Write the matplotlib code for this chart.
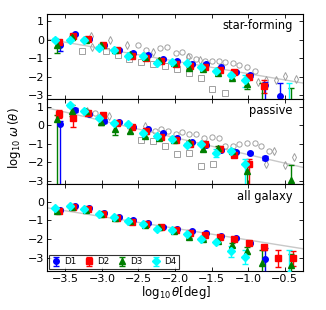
import numpy as np
import matplotlib
matplotlib.use("Agg")
import matplotlib.pyplot as plt

plt.rcParams['font.family'] = ['DejaVu Sans']
plt.rcParams['xtick.direction'] = 'in'
plt.rcParams['ytick.direction'] = 'in'
plt.rcParams['xtick.top'] = True
plt.rcParams['ytick.right'] = True

nan = np.nan

# bin centres in log10 theta [deg]; each sample is shifted a little
theta_bins = [-3.64, -3.44, -3.24, -3.04, -2.84, -2.64, -2.44, -2.24, -2.04,
              -1.84, -1.64, -1.44, -1.24, -1.04, -0.84, -0.64, -0.44]
sample_names = ["D1", "D2", "D3", "D4"]
sample_shift = [0.07, 0.05, 0.025, 0.0]

# ---- star-forming ----
sf_d1 = [-0.3, 0.28, 0.03, -0.28, -0.55, -0.7, -0.83, -1.05, -1.14, -1.3, -1.32, -1.5, -1.75, -1.92, -2.42, -3.04, nan]
sf_d2 = [-0.15, 0.18, 0.03, -0.3, -0.55, -0.9, -1.0, -1.13, -1.32, -1.44, -1.5, -1.62, -1.72, -2.0, -2.48, nan, nan]
sf_d3 = [-0.27, 0.13, -0.02, -0.3, -0.56, -0.75, -0.95, -1.1, -1.25, -1.55, -1.58, -1.8, -2.06, -2.4, -3.5, nan, -3.6]
sf_d4 = [0.0, 0.0, 0.0, -0.45, -0.55, -0.9, -0.9, -1.24, -1.2, -1.27, -1.45, -1.67, -1.88, -2.18, nan, nan, -3.6]
sf_d1_lo = [0.3, 0.05, 0.05, 0.05, 0.05, 0.05, 0.05, 0.05, 0.05, 0.05, 0.05, 0.05, 0.05, 0.08, 1.0, 0.7, nan]
sf_d1_hi = [0.1, 0.05, 0.05, 0.05, 0.05, 0.05, 0.05, 0.05, 0.05, 0.05, 0.05, 0.05, 0.05, 0.08, 0.15, 0.7, nan]
sf_d2_lo = [0.1, 0.05, 0.05, 0.05, 0.05, 0.05, 0.05, 0.05, 0.05, 0.05, 0.05, 0.05, 0.05, 0.08, 0.4, nan, nan]
sf_d2_hi = [0.1, 0.05, 0.05, 0.05, 0.05, 0.05, 0.05, 0.05, 0.05, 0.05, 0.05, 0.05, 0.05, 0.08, 0.3, nan, nan]
sf_d3_lo = [0.45, 0.05, 0.05, 0.05, 0.05, 0.05, 0.05, 0.05, 0.05, 0.05, 0.05, 0.05, 0.08, 0.25, 0.2, nan, 0.2]
sf_d3_hi = [0.2, 0.05, 0.05, 0.05, 0.05, 0.05, 0.05, 0.05, 0.05, 0.05, 0.05, 0.05, 0.08, 0.2, 1.15, nan, 1.0]
sf_d4_lo = [0.1, 0.05, 0.05, 0.08, 0.05, 0.05, 0.05, 0.05, 0.05, 0.05, 0.05, 0.05, 0.1, 0.4, nan, nan, 0.2]
sf_d4_hi = [0.1, 0.05, 0.05, 0.08, 0.05, 0.05, 0.05, 0.05, 0.05, 0.05, 0.05, 0.05, 0.1, 0.3, nan, nan, 1.25]

# ---- passive ----
pa_d1 = [0.07, 0.83, 0.62, 0.23, 0.17, -0.09, -0.22, -0.42, -0.69, -0.92, -1.05, -1.35, -1.45, -1.49, -1.76, nan, nan]
pa_d2 = [0.62, 0.4, 0.67, 0.56, 0.12, -0.09, -0.3, -0.63, -0.8, -1.0, -1.02, -1.3, -1.6, -2.1, nan, nan, nan]
pa_d3 = [0.33, 0.8, 0.78, 0.17, -0.2, -0.28, -0.55, -0.68, -0.8, -0.9, -1.25, -1.2, -1.4, -2.49, nan, nan, -2.94]
pa_d4 = [nan, 1.1, 0.8, 0.4, 0.15, 0.08, -0.41, -0.58, -0.72, -1.04, -1.02, -1.49, -1.36, -2.1, nan, nan, nan]
pa_d1_lo = [4.0, 0.1, 0.05, 0.1, 0.05, 0.05, 0.05, 0.05, 0.05, 0.05, 0.05, 0.05, 0.05, 0.05, 0.13, nan, nan]
pa_d1_hi = [0.15, 0.1, 0.05, 0.1, 0.05, 0.05, 0.05, 0.05, 0.05, 0.05, 0.05, 0.05, 0.05, 0.05, 0.13, nan, nan]
pa_d2_lo = [0.2, 0.5, 0.08, 0.05, 0.05, 0.05, 0.05, 0.05, 0.05, 0.05, 0.05, 0.05, 0.1, 4.0, nan, nan, nan]
pa_d2_hi = [0.2, 0.5, 0.08, 0.05, 0.05, 0.05, 0.05, 0.05, 0.05, 0.05, 0.05, 0.05, 0.1, 0.3, nan, nan, nan]
pa_d3_lo = [4.0, 0.3, 0.08, 0.15, 0.3, 0.15, 0.1, 0.1, 0.08, 0.08, 0.15, 0.1, 0.1, 4.0, nan, nan, 0.8]
pa_d3_hi = [0.22, 0.3, 0.08, 0.15, 0.3, 0.15, 0.1, 0.1, 0.08, 0.08, 0.15, 0.1, 0.1, 0.4, nan, nan, 0.8]
pa_d4_lo = [nan, 0.08, 0.05, 0.05, 0.05, 0.05, 0.08, 0.05, 0.05, 0.08, 0.05, 0.2, 0.08, 4.0, nan, nan, nan]
pa_d4_hi = [nan, 0.08, 0.05, 0.05, 0.05, 0.05, 0.08, 0.05, 0.05, 0.08, 0.05, 0.2, 0.08, 0.3, nan, nan, nan]

# ---- all galaxy ----
al_d1 = [-0.45, -0.2, -0.34, -0.6, -0.8, -0.99, -1.15, -1.33, -1.44, -1.57, -1.69, -1.84, -1.93, -2.22, -3.1, nan, nan]
al_d2 = [-0.5, -0.28, -0.4, -0.67, -0.86, -1.06, -1.2, -1.33, -1.51, -1.66, -1.78, -1.89, -1.98, -2.19, -2.45, -3.04, -3.04]
al_d3 = [-0.48, -0.3, -0.45, -0.66, -0.88, -1.05, -1.22, -1.38, -1.57, -1.87, -2.02, -2.1, -2.34, -2.62, -3.3, nan, -3.42]
al_d4 = [-0.35, -0.22, -0.36, -0.63, -0.84, -1.03, -1.2, -1.44, -1.53, -1.75, -1.98, -2.14, -2.66, -2.96, nan, nan, -3.9]
al_d1_lo = [0.05, 0.05, 0.05, 0.05, 0.05, 0.05, 0.05, 0.05, 0.05, 0.05, 0.05, 0.05, 0.05, 0.05, 0.7, nan, nan]
al_d1_hi = [0.05, 0.05, 0.05, 0.05, 0.05, 0.05, 0.05, 0.05, 0.05, 0.05, 0.05, 0.05, 0.05, 0.05, 0.6, nan, nan]
al_d2_lo = [0.05, 0.05, 0.05, 0.05, 0.05, 0.05, 0.05, 0.05, 0.05, 0.05, 0.05, 0.05, 0.05, 0.05, 0.15, 0.45, 0.4]
al_d2_hi = [0.05, 0.05, 0.05, 0.05, 0.05, 0.05, 0.05, 0.05, 0.05, 0.05, 0.05, 0.05, 0.05, 0.05, 0.15, 0.45, 0.4]
al_d3_lo = [0.05, 0.05, 0.05, 0.05, 0.05, 0.05, 0.05, 0.05, 0.05, 0.05, 0.05, 0.05, 0.1, 0.2, 1.0, nan, 1.0]
al_d3_hi = [0.05, 0.05, 0.05, 0.05, 0.05, 0.05, 0.05, 0.05, 0.05, 0.05, 0.05, 0.05, 0.1, 0.2, 0.7, nan, 0.6]
al_d4_lo = [0.05, 0.05, 0.05, 0.05, 0.05, 0.05, 0.05, 0.05, 0.05, 0.05, 0.05, 0.05, 0.3, 0.4, nan, nan, 1.3]
al_d4_hi = [0.05, 0.05, 0.05, 0.05, 0.05, 0.05, 0.05, 0.05, 0.05, 0.05, 0.05, 0.05, 0.3, 0.35, nan, nan, 1.3]

# ---- literature comparison (open grey symbols) ----
sf_sq_x = [-3.27, -2.945, -2.78, -2.63, -2.46, -2.30, -2.13, -1.97, -1.81, -1.65, -1.49, -1.31]
sf_sq_y = [-0.63, -0.63, -0.81, -1.03, -1.2, -1.32, -1.41, -1.6, -1.78, -2.08, -2.68, -2.87]
sf_ci_x = [-2.51, -2.40, -2.21, -2.11, -1.99, -1.91, -1.81, -1.71, -1.59, -1.50, -1.40,
           -1.31, -1.21, -1.12, -1.01, -0.91]
sf_ci_y = [-0.31, -0.55, -0.45, -0.38, -0.72, -0.69, -0.88, -1.06, -1.13, -1.15, -1.15,
           -1.2, -1.26, -1.35, -1.5, -1.68]
sf_di_x = [-3.15, -3.13, -2.89, -2.66, -2.30, -1.82, -1.66, -0.87, -0.75, -0.62, -0.49, -0.35]
sf_di_y = [0.18, -0.42, -0.04, -0.27, -0.66, -0.94, -1.08, -2.3, -2.2, -2.2, -1.95, -2.1]

pa_sq_x = [-2.46, -2.30, -2.13, -1.97, -1.81, -1.65, -1.48]
pa_sq_y = [-0.77, -0.86, -1.1, -1.53, -1.49, -2.22, -2.09]
pa_ci_x = [-3.1, -2.28, -2.19, -2.1, -1.99, -1.90, -1.81, -1.71, -1.61, -1.50, -1.40,
           -1.31, -1.21, -1.12, -1.01, -0.91, -0.82, -0.72]
pa_ci_y = [0.67, -0.32, -0.2, -0.32, -0.45, -0.36, -0.45, -0.45, -0.7, -0.6, -0.68,
           -1.1, -1.1, -1.0, -0.97, -0.95, -1.1, -1.4]
pa_di_x = [-3.2, -2.9, -2.41, -0.75, -0.64, -0.49, -0.37]
pa_di_y = [0.8, 0.5, -0.05, -2.1, -1.4, -2.14, -1.7]

# power-law fits: intercept and slope in log-log
fit_sf = (-2.51, -0.677)
fit_pa = (-2.50, -0.92)
fit_al = (-2.68, -0.629)

colors = ["#0000ff", "#ff0000", "#007f00", "#00ffff"]
markers = ["o", "s", "^", "D"]
msizes = [4.0, 4.0, 4.2, 4.0]

fig = plt.figure(figsize=(3.26, 3.10), dpi=100)
L, W = 47 / 326, 256 / 326
ax1 = fig.add_axes([L, 1 - 99 / 310, W, 85 / 310])
ax2 = fig.add_axes([L, 1 - 184 / 310, W, 85 / 310])
ax3 = fig.add_axes([L, 1 - 271 / 310, W, 87 / 310])

panels = [
    (ax1, [sf_d1, sf_d2, sf_d3, sf_d4],
     [(sf_d1_lo, sf_d1_hi), (sf_d2_lo, sf_d2_hi), (sf_d3_lo, sf_d3_hi), (sf_d4_lo, sf_d4_hi)],
     fit_sf, "star-forming", (-3.2, 1.38), [1, 0, -1, -2, -3]),
    (ax2, [pa_d1, pa_d2, pa_d3, pa_d4],
     [(pa_d1_lo, pa_d1_hi), (pa_d2_lo, pa_d2_hi), (pa_d3_lo, pa_d3_hi), (pa_d4_lo, pa_d4_hi)],
     fit_pa, "passive", (-3.17, 1.43), [1, 0, -1, -2, -3]),
    (ax3, [al_d1, al_d2, al_d3, al_d4],
     [(al_d1_lo, al_d1_hi), (al_d2_lo, al_d2_hi), (al_d3_lo, al_d3_hi), (al_d4_lo, al_d4_hi)],
     fit_al, "all galaxy", (-3.72, 0.96), [0, -1, -2, -3]),
]

grey = "#a0a0a0"
gkw = dict(ls="none", mfc="none", mec=grey, mew=0.7, ms=3.8)
ax1.plot(sf_sq_x, sf_sq_y, marker="s", **gkw)
ax1.plot(sf_ci_x, sf_ci_y, marker="o", **gkw)
ax1.plot(sf_di_x, sf_di_y, marker="d", **gkw)
ax2.plot(pa_sq_x, pa_sq_y, marker="s", **gkw)
ax2.plot(pa_ci_x, pa_ci_y, marker="o", **gkw)
ax2.plot(pa_di_x, pa_di_y, marker="d", **gkw)

xl = (-3.75, -0.25)
xx = np.linspace(xl[0], xl[1], 50)
handles = []
for ax, ys, errs, fit, label, yl, yt in panels:
    ax.plot(xx, fit[0] + fit[1] * xx, color="#c8c8c8", lw=1, zorder=1)
    for i in range(4):
        x = np.array(theta_bins) + sample_shift[i]
        lo, hi = errs[i]
        h = ax.errorbar(x, ys[i], yerr=[lo, hi], fmt=markers[i], color=colors[i],
                        mec=colors[i], ms=msizes[i], capsize=2, elinewidth=1,
                        capthick=1, label=sample_names[i], zorder=3)
        handles.append(h)
    ax.set_xlim(xl)
    ax.set_ylim(yl)
    ax.set_xticks([-3.5, -3.0, -2.5, -2.0, -1.5, -1.0, -0.5])
    ax.set_yticks(yt)
    ax.set_yticklabels([str(v).replace("-", "\u2212") for v in yt])
    ax.tick_params(labelsize=8, length=3, width=0.6, pad=2)
    for s in ax.spines.values():
        s.set_linewidth(0.8)
    ax.text(0.96, 0.86, label, transform=ax.transAxes, ha="right", va="center",
            fontsize=8.3)

ax1.tick_params(labelbottom=False)
ax2.tick_params(labelbottom=False)
ax3.set_xticklabels(["\u22123.5", "\u22123.0", "\u22122.5", "\u22122.0", "\u22121.5", "\u22121.0", "\u22120.5"])

leg = ax3.legend(handles=handles[-4:], loc="lower left", ncol=4, fontsize=6.3,
                 frameon=True, fancybox=False, borderaxespad=0.25,
                 handlelength=0.9, handletextpad=0.5, columnspacing=1.0,
                 borderpad=0.3)
leg.get_frame().set_edgecolor("black")
leg.get_frame().set_linewidth(0.8)

fig.text(0.043, 0.555, r"$\log_{10}\,\omega\,(\theta)$", rotation=90,
         ha="center", va="center", fontsize=8.5)
fig.text(0.54, 0.057, r"$\log_{10}\theta$[deg]", ha="center", va="center",
         fontsize=8.5)

fig.savefig("out.png", dpi=100)
